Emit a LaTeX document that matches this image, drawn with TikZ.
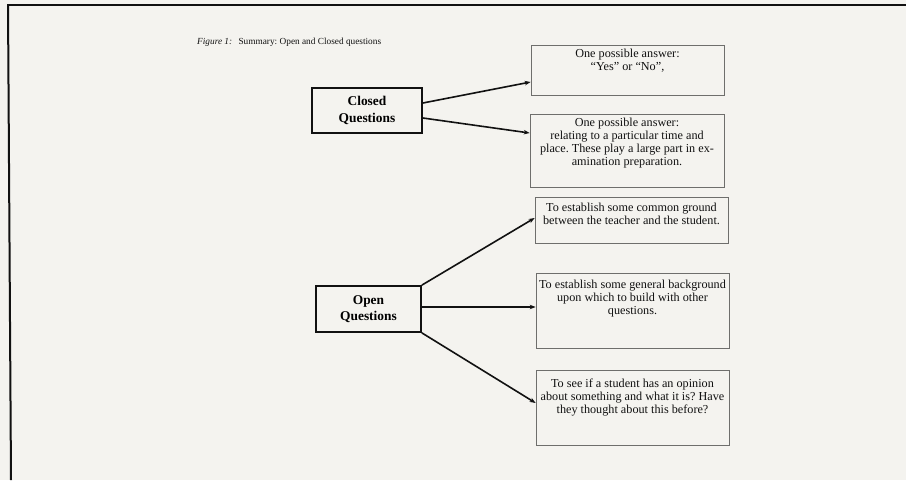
\documentclass[tikz,border=0pt]{standalone}
\usepackage{fontspec}
\setmainfont{Liberation Serif}
\usetikzlibrary{arrows.meta}
\definecolor{paper}{HTML}{F4F3EF}
\definecolor{ink}{HTML}{111111}
\definecolor{faint}{HTML}{6E6E6C}
\frenchspacing
\begin{document}
\begin{tikzpicture}[x=1pt,y=-1pt,
  qbox/.style={draw=ink,line width=1.8pt,align=center,inner sep=0pt,
    font=\fontsize{13.4}{16.5}\selectfont\bfseries},
  abox/.style={draw=faint,line width=0.7pt,inner sep=0pt,minimum width=193pt},
  atext/.style={anchor=north,align=center,inner sep=0pt,text=ink,
    font=\fontsize{12.2}{13}\selectfont},
  link/.style={draw=ink,line width=1.6pt,-{Stealth[length=6pt,width=4.5pt]}}
]
% page and frame
\fill[paper] (0,0) rectangle (906,480);
\useasboundingbox (0,0) rectangle (906,480);
\draw[ink,line width=2pt] (7,5) -- (906,5);
\draw[ink,line width=2pt] (8,5) -- (11,480);

% caption
\node[anchor=west,inner sep=0pt,text=ink,font=\fontsize{9.3}{11}\selectfont] (cap) at (197,42.5)
  {\textit{Figure 1:}\hspace{4pt} Summary: Open and Closed questions};

% question boxes
\node[qbox,minimum width=110pt,minimum height=45pt] (cq) at (367,110.5) {Closed\\Questions};
\node[qbox,minimum width=105pt,minimum height=46pt] (oq) at (368.5,309) {Open\\Questions};

% answer boxes
\node[abox,minimum height=50pt] (b1) at (627.5,70) {};
\node[abox,minimum width=194pt,minimum height=73pt] (b2) at (627,150.5) {};
\node[abox,minimum height=46pt] (b3) at (631.5,220) {};
\node[abox,minimum height=75pt] (b4) at (632.5,310.5) {};
\node[abox,minimum height=75pt] (b5) at (632.5,407.5) {};

\node[atext] (t1) at ([yshift=-4.5pt]b1.north) {One possible answer:\\ ``Yes'' or ``No'',};
\node[atext] (t2) at ([yshift=-4.5pt]b2.north) {One possible answer:\\relating to a particular time and\\place. These play a large part in ex-\\amination preparation.};
\node[atext] (t3) at ([yshift=-6pt]b3.north) {To establish some common ground\\between the teacher and the student.};
\node[atext] (t4) at ([yshift=-7.5pt]b4.north) {To establish some general background\\upon which to build with other\\questions.};
\node[atext] (t5) at ([yshift=-9pt]b5.north) {To see if a student has an opinion\\about something and what it is? Have\\they thought about this before?};

% connectors
\draw[link] ([yshift=7.5pt]cq.east) -- ([yshift=-12pt]b1.west);
\draw[link] ([yshift=-7.5pt]cq.east) -- ([yshift=17.5pt]b2.west);
\draw[link] (oq.north east) -- ([yshift=2pt]b3.west);
\draw[link] ([yshift=2pt]oq.east) -- ([yshift=3.5pt]b4.west);
\draw[link] (oq.south east) -- ([yshift=4.5pt]b5.west);
\end{tikzpicture}
\end{document}
